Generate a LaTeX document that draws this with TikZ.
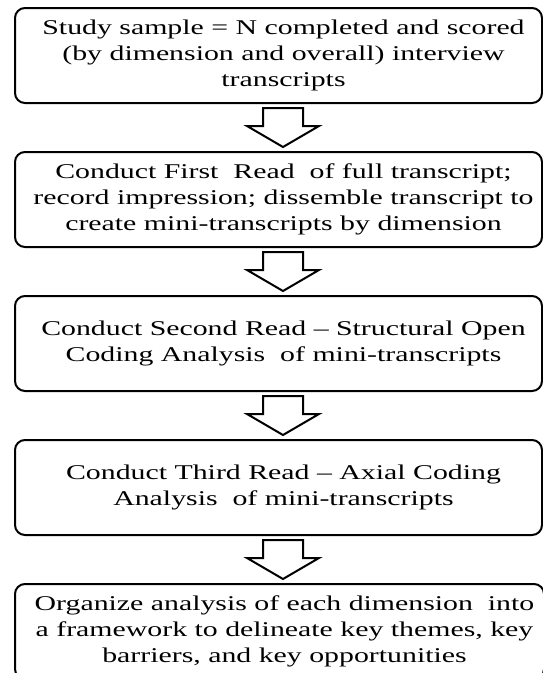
\documentclass[tikz,border=0pt]{standalone}
\usepackage{fontspec}
\setmainfont{Liberation Serif}
\usepackage{graphicx}
\newcommand{\boxtext}[1]{\scalebox{1.42}[1]{\fontsize{21}{26}\selectfont\begin{tabular}{@{}c@{}}#1\end{tabular}}}
\tikzset{
  stepbox/.style={draw=black, line width=2pt, rounded corners=10pt, minimum width=527pt, minimum height=95pt, inner sep=0pt, anchor=north west},
  txt/.style={inner sep=0pt, anchor=center},
  bigarrow/.style={draw=black, line width=2pt, fill=white, line join=miter}
}
\newcommand{\downarrowshape}[2]{% top y, tip y, center x 283
  \draw[bigarrow] (263,#1) -- (303,#1) -- (303,#1+18) -- (319,#1+18) -- (283,#2) -- (247,#1+18) -- (263,#1+18) -- cycle;
}
\begin{document}
\begin{tikzpicture}[x=1pt,y=-1pt]
\useasboundingbox (0,0) rectangle (543,673);
\fill[white] (0,0) rectangle (543,673);
\node[stepbox] (b1) at (14,7) {};
\node[stepbox] (b2) at (14,151) {};
\node[stepbox] (b3) at (14,295) {};
\node[stepbox] (b4) at (14,439) {};
\node[stepbox, minimum width=529pt] (b5) at (14,583) {};
\node[txt] (t1) at ([xshift=5pt]b1.center) {\boxtext{Study sample = N completed and scored\\(by dimension and overall) interview\\transcripts}};
\node[txt] (t2) at ([xshift=5pt]b2.center) {\boxtext{Conduct First\ \ Read\ \ of full transcript;\\record impression; dissemble transcript to\\create mini-transcripts by dimension}};
\node[txt] (t3) at ([xshift=5pt]b3.center) {\boxtext{Conduct Second Read -- Structural Open\\Coding Analysis\ \ of mini-transcripts}};
\node[txt] (t4) at ([xshift=5pt]b4.center) {\boxtext{Conduct Third Read -- Axial Coding\\Analysis\ \ of mini-transcripts}};
\node[txt] (t5) at ([xshift=5pt]b5.center) {\boxtext{Organize analysis of each dimension\ \ into\\a framework to delineate key themes, key\\barriers, and key opportunities}};
\downarrowshape{108}{147}
\downarrowshape{252}{291}
\downarrowshape{396}{435}
\downarrowshape{540}{579}
\end{tikzpicture}
\end{document}
